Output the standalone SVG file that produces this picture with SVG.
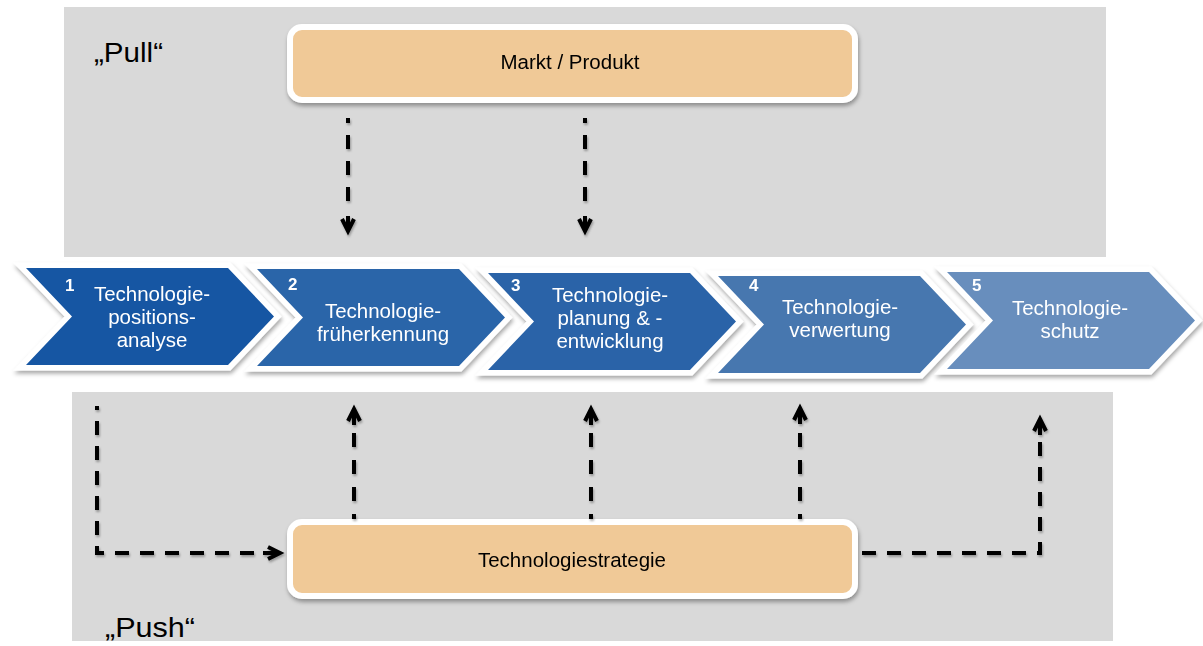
<svg xmlns="http://www.w3.org/2000/svg" width="1203" height="646" viewBox="0 0 1203 646">
<defs>
<filter id="sh" x="-10%" y="-10%" width="120%" height="130%">
<feDropShadow dx="1" dy="3" stdDeviation="2" flood-color="#000" flood-opacity="0.35"/>
</filter>
<filter id="lsh" x="-20%" y="-20%" width="140%" height="140%">
<feDropShadow dx="1" dy="2" stdDeviation="1.2" flood-color="#000" flood-opacity="0.3"/>
</filter>
<style>
.panel{fill:#D9D9D9}
.box{fill:#F0C997;stroke:#FFFFFF;stroke-width:6}
.chev{stroke:#FFFFFF;stroke-width:11;stroke-linejoin:miter;stroke-miterlimit:10;paint-order:stroke}
.lbl{font-family:"Liberation Sans",Arial,sans-serif;font-size:20.5px;fill:#FFFFFF;text-anchor:middle}
.num{font-family:"Liberation Sans",Arial,sans-serif;font-size:17px;font-weight:bold;fill:#FFFFFF}
.btxt{font-family:"Liberation Sans",Arial,sans-serif;font-size:20.5px;fill:#000000;text-anchor:middle}
.big{font-family:"Liberation Sans",Arial,sans-serif;font-size:28px;fill:#000000}
.dash{fill:none;stroke:#000;stroke-width:4;stroke-dasharray:14 11}
.head{fill:none;stroke:#000;stroke-width:4;stroke-linecap:butt;stroke-linejoin:miter}
</style>
</defs>

<g id="panels">
<rect class="panel" x="64" y="7" width="1042" height="250"/>
<rect class="panel" x="72" y="392" width="1041" height="249"/>
<text class="big" x="94" y="62" textLength="69" lengthAdjust="spacingAndGlyphs">„Pull“</text>
<text class="big" x="105" y="637" textLength="90" lengthAdjust="spacingAndGlyphs">„Push“</text>
</g>

<g id="markt" filter="url(#sh)">
<rect class="box" x="290" y="27" width="565" height="73" rx="12" ry="12"/>
<text class="btxt" x="570" y="69">Markt / Produkt</text>
</g>

<g id="strategie" filter="url(#sh)">
<rect class="box" x="290" y="522" width="565" height="74" rx="12" ry="12"/>
<text class="btxt" x="572" y="567">Technologiestrategie</text>
</g>

<g id="step1" filter="url(#sh)">
<path class="chev" fill="#1656A3" d="M26,268 L228,268 L274,316.5 L228,365 L26,365 L72,316.5 Z"/>
<text class="num" x="65" y="291">1</text>
<text class="lbl" x="152" y="301">Technologie-</text>
<text class="lbl" x="152" y="324">positions-</text>
<text class="lbl" x="152" y="347">analyse</text>
</g>

<g id="step2" filter="url(#sh)">
<path class="chev" fill="#2B65A9" d="M257,269 L459,269 L505,317.5 L459,366 L257,366 L303,317.5 Z"/>
<text class="num" x="288" y="290">2</text>
<text class="lbl" x="383" y="318">Technologie-</text>
<text class="lbl" x="383" y="341">früherkennung</text>
</g>

<g id="step3" filter="url(#sh)">
<path class="chev" fill="#2A63A8" d="M488,273 L690,273 L736,321.5 L690,370 L488,370 L534,321.5 Z"/>
<text class="num" x="511" y="291">3</text>
<text class="lbl" x="610" y="302">Technologie-</text>
<text class="lbl" x="610" y="325">planung &amp; -</text>
<text class="lbl" x="610" y="348">entwicklung</text>
</g>

<g id="step4" filter="url(#sh)">
<path class="chev" fill="#4777AF" d="M718,276 L920,276 L966,324.5 L920,373 L718,373 L764,324.5 Z"/>
<text class="num" x="749" y="291">4</text>
<text class="lbl" x="840" y="314">Technologie-</text>
<text class="lbl" x="840" y="337">verwertung</text>
</g>

<g id="step5" filter="url(#sh)">
<path class="chev" fill="#678EBD" d="M947,272 L1149,272 L1195,320.5 L1149,369 L947,369 L993,320.5 Z"/>
<text class="num" x="972" y="291">5</text>
<text class="lbl" x="1070" y="315">Technologie-</text>
<text class="lbl" x="1070" y="338">schutz</text>
</g>

<g id="connectors" filter="url(#lsh)">
<line class="dash" x1="348" y1="118" x2="348" y2="202" stroke-dashoffset="9" style="stroke-dasharray:14 12"/>
<line class="head" x1="348" y1="216" x2="348" y2="229"/>
<polyline class="head" points="342,219 348,231 354,219"/>
<line class="dash" x1="585" y1="118" x2="585" y2="202" stroke-dashoffset="9" style="stroke-dasharray:14 12"/>
<line class="head" x1="585" y1="216" x2="585" y2="229"/>
<polyline class="head" points="579,219 585,231 591,219"/>

<line class="dash" x1="354" y1="433" x2="354" y2="519" style="stroke-dasharray:14 13"/>
<line class="head" x1="354" y1="411" x2="354" y2="425"/>
<polyline class="head" points="348,421 354,409 360,421"/>
<line class="dash" x1="591" y1="433" x2="591" y2="519" style="stroke-dasharray:14 13"/>
<line class="head" x1="591" y1="411" x2="591" y2="425"/>
<polyline class="head" points="585,421 591,409 597,421"/>
<line class="dash" x1="800" y1="433" x2="800" y2="519" style="stroke-dasharray:14 13"/>
<line class="head" x1="800" y1="410" x2="800" y2="424"/>
<polyline class="head" points="794,420 800,408 806,420"/>

<path class="dash" d="M97,406 V553 H255" stroke-dashoffset="10"/>
<line class="head" x1="263" y1="553" x2="278" y2="553"/>
<polyline class="head" points="268,547 280,553 268,559"/>

<path class="dash" d="M862,553 H1040 V433"/>
<line class="head" x1="1040" y1="421" x2="1040" y2="435"/>
<polyline class="head" points="1034,431 1040,419 1046,431"/>
</g>
</svg>
